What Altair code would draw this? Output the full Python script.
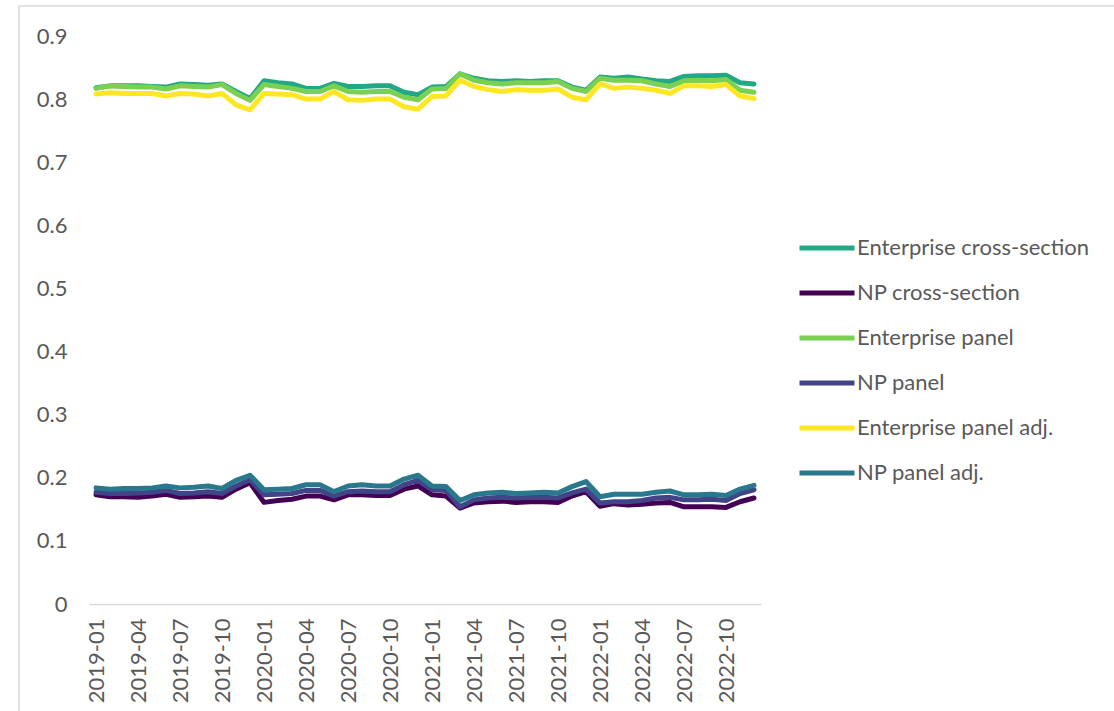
import altair as alt
import pandas as pd

# Monthly observations, January 2019 to December 2022
months = [f"{y}-{m:02d}" for y in range(2019, 2023) for m in range(1, 13)]

series_names = [
    "Enterprise cross-section",
    "NP cross-section",
    "Enterprise panel",
    "NP panel",
    "Enterprise panel adj.",
    "NP panel adj.",
]
series_colors = ["#22a884", "#440154", "#7ad151", "#414487", "#fde725", "#2a788e"]

enterprise_cross = [
    0.818, 0.821, 0.821, 0.821, 0.820, 0.819, 0.824, 0.823, 0.822, 0.824, 0.812, 0.801,
    0.829, 0.826, 0.824, 0.817, 0.817, 0.825, 0.820, 0.820, 0.821, 0.821, 0.811, 0.807,
    0.819, 0.820, 0.840, 0.833, 0.829, 0.828, 0.829, 0.828, 0.829, 0.829, 0.819, 0.814,
    0.835, 0.833, 0.835, 0.832, 0.829, 0.828, 0.836, 0.837, 0.837, 0.838, 0.826, 0.824,
]
np_cross = [
    0.173, 0.170, 0.170, 0.169, 0.171, 0.174, 0.169, 0.170, 0.171, 0.169, 0.182, 0.192,
    0.161, 0.164, 0.166, 0.171, 0.171, 0.165, 0.173, 0.173, 0.172, 0.172, 0.182, 0.187,
    0.173, 0.171, 0.152, 0.160, 0.162, 0.163, 0.161, 0.162, 0.162, 0.161, 0.171, 0.178,
    0.155, 0.159, 0.157, 0.158, 0.160, 0.161, 0.154, 0.154, 0.154, 0.153, 0.162, 0.168,
]
enterprise_panel = [
    0.817, 0.821, 0.820, 0.819, 0.819, 0.816, 0.821, 0.820, 0.819, 0.823, 0.809, 0.798,
    0.823, 0.820, 0.817, 0.812, 0.812, 0.821, 0.812, 0.811, 0.812, 0.812, 0.803, 0.799,
    0.816, 0.817, 0.840, 0.830, 0.826, 0.824, 0.826, 0.826, 0.826, 0.828, 0.817, 0.812,
    0.833, 0.830, 0.830, 0.829, 0.824, 0.820, 0.829, 0.830, 0.829, 0.831, 0.814, 0.811,
]
np_panel = [
    0.177, 0.175, 0.175, 0.176, 0.177, 0.180, 0.175, 0.176, 0.178, 0.175, 0.187, 0.197,
    0.173, 0.174, 0.175, 0.180, 0.180, 0.171, 0.178, 0.179, 0.178, 0.178, 0.189, 0.196,
    0.181, 0.180, 0.154, 0.165, 0.168, 0.169, 0.168, 0.169, 0.169, 0.168, 0.176, 0.182,
    0.160, 0.162, 0.162, 0.164, 0.168, 0.169, 0.165, 0.165, 0.166, 0.164, 0.175, 0.181,
]
enterprise_panel_adj = [
    0.808, 0.810, 0.809, 0.809, 0.809, 0.805, 0.809, 0.808, 0.805, 0.809, 0.791, 0.783,
    0.809, 0.808, 0.807, 0.800, 0.800, 0.812, 0.799, 0.798, 0.800, 0.800, 0.788, 0.784,
    0.804, 0.805, 0.830, 0.820, 0.815, 0.812, 0.815, 0.814, 0.814, 0.816, 0.803, 0.799,
    0.824, 0.817, 0.819, 0.817, 0.814, 0.809, 0.821, 0.821, 0.820, 0.823, 0.805, 0.801,
]
np_panel_adj = [
    0.184, 0.182, 0.183, 0.183, 0.184, 0.187, 0.184, 0.185, 0.187, 0.183, 0.196, 0.204,
    0.181, 0.182, 0.183, 0.189, 0.189, 0.178, 0.187, 0.189, 0.187, 0.187, 0.198, 0.204,
    0.187, 0.186, 0.164, 0.173, 0.176, 0.177, 0.175, 0.176, 0.177, 0.176, 0.186, 0.194,
    0.170, 0.174, 0.174, 0.174, 0.177, 0.179, 0.173, 0.173, 0.174, 0.172, 0.182, 0.188,
]

series_values = [
    enterprise_cross, np_cross, enterprise_panel,
    np_panel, enterprise_panel_adj, np_panel_adj,
]

rows = []
for order, (name, values) in enumerate(zip(series_names, series_values)):
    for month, v in zip(months, values):
        rows.append({"month": month, "series": name, "value": v, "order": order})
df = pd.DataFrame(rows)

y_ticks = [0, 0.1, 0.2, 0.3, 0.4, 0.5, 0.6, 0.7, 0.8, 0.9]
x_ticks = months[::3]

FONT = "Lato"
TEXT = "#595959"
FS = 22

lines = alt.Chart(df).mark_line(
    strokeWidth=5, strokeCap="round", strokeJoin="round"
).encode(
    x=alt.X(
        "month:O",
        sort=months,
        scale=alt.Scale(padding=0.5),
        axis=alt.Axis(
            title=None,
            values=x_ticks,
            labelAngle=-90,
            labelAlign="right",
            labelBaseline="middle",
            labelPadding=14,
            ticks=False,
            domainColor="#d9d9d9",
            domainWidth=1.5,
            labelFont=FONT,
            labelFontSize=FS,
            labelColor=TEXT,
        ),
    ),
    y=alt.Y(
        "value:Q",
        scale=alt.Scale(domain=[0, 0.9], nice=False, zero=True),
        axis=alt.Axis(
            title=None,
            values=y_ticks,
            labelExpr="datum.value == 0 ? '0' : format(datum.value, '.1f')",
            grid=False,
            domain=False,
            ticks=False,
            labelPadding=22,
            labelFont=FONT,
            labelFontSize=FS,
            labelColor=TEXT,
        ),
    ),
    color=alt.Color(
        "series:N",
        sort=series_names,
        scale=alt.Scale(domain=series_names, range=series_colors),
        legend=alt.Legend(
            title=None,
            orient="none",
            legendX=708,
            legendY=182,
            symbolType="stroke",
            symbolSize=3025,
            symbolStrokeWidth=5,
            labelFont=FONT,
            labelFontSize=FS,
            labelColor=TEXT,
            labelOffset=0,
            labelLimit=0,
            rowPadding=4,
        ),
    ),
    order=alt.Order("order:Q"),
    detail="series:N",
)

# Thin outline of the chart area, running off the right and bottom edges
frame = alt.Chart(pd.DataFrame({"frame": [0]})).mark_rect(
    fill=None, stroke="#d9d9d9", strokeWidth=1.5, clip=False
).encode(
    x=alt.value(-70),
    x2=alt.value(1100),
    y=alt.value(-30),
    y2=alt.value(720),
)

chart = alt.layer(frame, lines).properties(
    width=672,
    height=568,
    autosize=alt.AutoSizeParams(type="none"),
    padding={"left": 89, "top": 36, "right": 353, "bottom": 107},
).configure(background="white").configure_view(stroke=None)

chart.save("out.html", embed_options={"renderer": "svg", "actions": False})
